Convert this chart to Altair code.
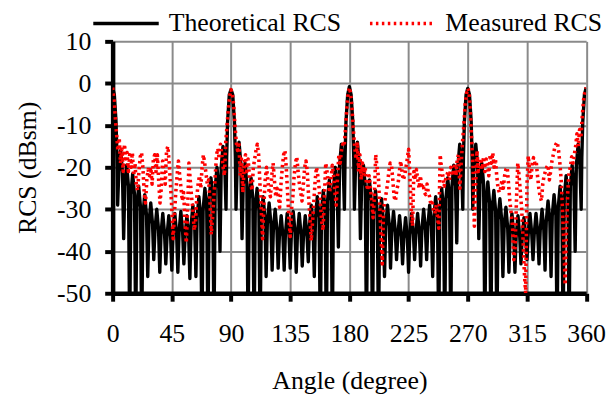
import altair as alt
import pandas as pd

TH = "Theoretical RCS"
ME = "Measured RCS"

# ---------------- theoretical RCS ----------------
# main-lobe peak values at 0, 90, 180, 270, 360 deg
main_peak = [-1.0, -1.5, -0.8, -1.2, -1.0]
# main-lobe skirt, leaving a peak (offsets 1.3, 2.6, 3.3 deg) and arriving at the next one
main_lobe_down = [-2.7, -9.2, -17.6]
main_lobe_up = [-17.6, -9.2, -2.7]
down_offsets = [1.3, 2.6, 3.3]
up_offsets = [86.7, 87.4, 88.7]

# 19 nulls (first at 3.8 deg, last at 86.2 deg) and 18 sidelobe peaks per quadrant
nulls_q1 = [-29, -37, -60, -60, -60, -46, -42, -45, -43, -44.5, -45, -43, -46.5, -46, -60, -60, -60, -40, -30]
nulls_q2 = [-30, -37, -60, -60, -60, -46, -44.5, -44, -44.5, -44, -45, -43.5, -42.5, -46, -60, -60, -60, -39, -30]
nulls_q3 = [-30, -37, -60, -60, -60, -46, -44, -42, -43, -45, -42, -43.5, -42, -46, -60, -60, -60, -38, -30]
nulls_q4 = [-30, -37, -60, -60, -60, -46, -45, -45, -43, -42, -42, -43, -44.5, -46, -60, -60, -60, -40, -30]

peaks_q1 = [-16, -19.5, -21.5, -24.5, -26.5, -28.5, -30, -31, -31.5, -31, -30.5, -31.5, -29, -27, -25, -22.5, -20, -15]
peaks_q2 = [-14, -19, -22.5, -25, -27, -28.5, -30, -31.5, -31, -30.5, -31, -31.5, -29, -27, -25.5, -23, -20, -14.5]
peaks_q3 = [-14, -19.5, -23, -25.5, -27.5, -29, -30.5, -31.5, -32, -31, -31, -30, -29, -27, -25, -22.5, -19.5, -14.5]
peaks_q4 = [-14.5, -19, -23.5, -25.5, -27.5, -29.5, -31, -31.5, -32, -31, -31, -30, -28, -26.5, -24.5, -22, -19.5, -14.5]

# shape of one sidelobe as seen in the picture: broad hump, steep sides into the null
# (position within the lobe, level relative to the hump top in dB)
lobe_pos = [0.2, 0.5, 0.8]
lobe_rel_db = [-5.0, 0.0, -5.0]

# ---------------- measured RCS, one value per degree ----------------
meas_q1 = [-1, -3.5, -8, -12, -16, -13, -19, -15, -21, -14.5,
           -18, -16.5, -21, -17, -20, -16.5, -22, -19, -24, -25.5,
           -21, -17.5, -16.5, -20, -26, -28.5, -23, -20.5, -22, -20,
           -24, -18, -17, -21, -17, -23, -28.5, -25, -18.5, -21,
           -24, -16, -15, -19, -24, -30, -37, -31, -26, -22,
           -18.5, -22, -25, -28, -26, -33, -38, -30, -19, -23,
           -27, -30, -35, -33, -27, -24, -22, -25, -20, -17,
           -19, -21.5, -24, -23, -28, -36, -32, -27, -22, -17,
           -15.5, -18, -14.5, -17, -20, -22, -14, -10, -6, -3]
meas_q2 = [-1.5, -2.5, -5, -10, -14, -16, -14, -22, -18, -26,
           -20, -17, -21, -18, -22, -24, -25.5, -20, -18, -16,
           -14.5, -17, -24, -30, -37, -29, -23, -20, -23, -26,
           -27, -22, -19, -23, -27, -25, -27, -29.5, -24, -20,
           -17, -16, -20, -26, -32, -36.5, -30, -27, -22, -19,
           -17.5, -21, -24, -26, -28, -24, -20, -18.5, -21, -27,
           -32, -37.5, -33, -28, -23, -20, -22, -25, -29, -33,
           -35, -27, -19, -21, -24, -26, -23, -19.5, -22, -26,
           -29, -22, -17, -19, -16, -14.5, -15, -11, -6, -2.5]
meas_q3 = [-1, -2.5, -6, -11, -15, -18, -14, -21, -17, -23,
           -19, -22, -20, -24, -25.5, -22, -25, -28, -32, -27,
           -17, -20, -22, -29, -36, -43, -30, -28, -26, -24,
           -21, -19, -19.5, -23, -27, -28, -25.5, -24, -21, -18.5,
           -21, -23, -22, -20, -18, -15.7, -22, -30, -34, -21,
           -23, -20.5, -23, -25, -22, -25, -24, -26, -26.5, -24,
           -26, -27, -29, -28.5, -30, -31, -29, -32, -34.5, -17,
           -20, -22, -24.5, -23, -22, -21, -23, -20, -20.5, -22,
           -19, -22, -18, -17, -25, -19, -14, -10, -5, -2.5]
meas_q4 = [-1.2, -2, -7, -14, -20, -34, -24, -16, -21, -18,
           -18, -20.5, -17.5, -21, -18, -19.5, -22, -17, -19, -16.5,
           -20, -18, -22, -25, -26, -25, -23, -25, -22, -20.5,
           -20, -24, -28, -31, -34, -42, -39, -28, -19, -22,
           -26, -30, -37, -45, -50, -24, -17.3, -21, -23, -19,
           -17.7, -19, -18.5, -22, -25, -27, -28, -24, -22, -21,
           -20, -19.5, -23, -21, -18.5, -17, -15.5, -14.5, -14, -16,
           -19, -23, -30, -38, -48, -35, -26, -21, -20, -17.5,
           -19, -17, -15, -12, -15, -11, -13, -8, -4, -2]
meas_end = [-1]

# ---------------- assemble the table ----------------
nulls = [nulls_q1, nulls_q2, nulls_q3, nulls_q4]
peaks = [peaks_q1, peaks_q2, peaks_q3, peaks_q4]
first_null, last_null, n_lobes = 3.8, 86.2, 18
step = (last_null - first_null) / n_lobes

rows = []
for q in range(4):
    base = 90 * q
    rows.append((base, main_peak[q], TH))
    for off, v in zip(down_offsets, main_lobe_down):
        rows.append((base + off, v, TH))
    for k in range(n_lobes):
        start = base + first_null + step * k
        rows.append((start, nulls[q][k], TH))
        for p, rel in zip(lobe_pos, lobe_rel_db):
            rows.append((start + step * p, peaks[q][k] + rel, TH))
    rows.append((base + last_null, nulls[q][n_lobes], TH))
    for off, v in zip(up_offsets, main_lobe_up):
        rows.append((base + off, v, TH))
rows.append((360, main_peak[4], TH))

measured = meas_q1 + meas_q2 + meas_q3 + meas_q4 + meas_end
for i, v in enumerate(measured):
    rows.append((i, v, ME))

df = pd.DataFrame(rows, columns=["angle", "rcs", "series"])

FONT = "Liberation Serif, Times New Roman, serif"
dom = [TH, ME]
leg = alt.Legend(
    title=None, orient="none", legendX=-21.5, legendY=-53,
    direction="horizontal", symbolType="stroke", symbolSize=4356,
    labelFont=FONT, labelFontSize=26, labelColor="black",
    labelOffset=8, columnPadding=20, padding=0, labelLimit=400,
)

chart = alt.Chart(df).mark_line(clip=True, strokeJoin="round").encode(
    x=alt.X("angle:Q",
            scale=alt.Scale(domain=[0, 360], nice=False, zero=False),
            axis=alt.Axis(values=[0, 45, 90, 135, 180, 225, 270, 315, 360],
                          title="Angle (degree)", labelFlush=False, labelOverlap=False,
                          labelPadding=20, titlePadding=21)),
    y=alt.Y("rcs:Q",
            scale=alt.Scale(domain=[-50, 10], nice=False, zero=False),
            axis=alt.Axis(values=[-50, -40, -30, -20, -10, 0, 10],
                          title="RCS (dBsm)", labelOverlap=False,
                          labelExpr="datum.value < 0 ? '-' + toString(abs(datum.value)) : toString(datum.value)",
                          labelPadding=14, titlePadding=16)),
    color=alt.Color("series:N", scale=alt.Scale(domain=dom, range=["#000000", "#ff0000"]), legend=leg),
    strokeDash=alt.StrokeDash("series:N", scale=alt.Scale(domain=dom, range=[[1, 0], [2.5, 3.5]]), legend=leg),
    strokeWidth=alt.StrokeWidth("series:N", scale=alt.Scale(domain=dom, range=[3.4, 3.6]), legend=leg),
).properties(
    width=477.5, height=254,
    autosize=alt.AutoSizeParams(type="none"),
    padding={"left": 105.5, "top": 32, "right": 20, "bottom": 108},
).configure_view(stroke=None).configure_axis(
    labelFont=FONT, labelFontSize=26, labelColor="black",
    titleFont=FONT, titleFontSize=26, titleFontWeight="normal", titleColor="black",
    domainColor="black", domainWidth=4.5,
    tickColor="black", tickWidth=4, tickSize=8,
    grid=True, gridColor="#8a8a8a", gridWidth=2,
)

chart.save("out.html", embed_options={"renderer": "svg", "actions": False})
